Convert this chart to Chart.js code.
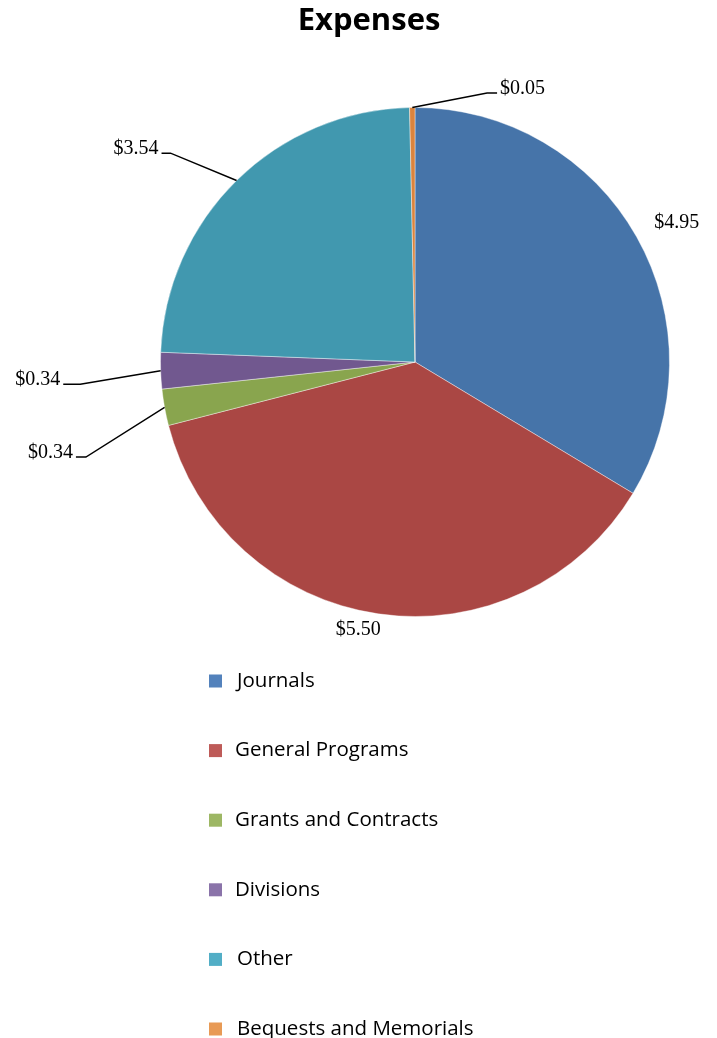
<!DOCTYPE html>
<html>
<head>
<meta charset="utf-8">
<script src="https://cdn.jsdelivr.net/npm/chart.js@4"></script>
<style>
  html, body { margin: 0; padding: 0; background: #fff; }
  #wrap { width: 717px; height: 1038px; }
</style>
</head>
<body>
<div id="wrap"><canvas id="myChart"></canvas></div>
<script>
// data
var categories = ['Journals', 'General Programs', 'Grants and Contracts', 'Divisions', 'Other', 'Bequests and Memorials'];
var expenses = [4.95, 5.50, 0.34, 0.34, 3.54, 0.05];
var valueLabels = ['$4.95', '$5.50', '$0.34', '$0.34', '$3.54', '$0.05'];

// colours: slices and legend boxes
var sliceColors = ['#4674A9', '#AA4744', '#89A54E', '#71588F', '#4198AF', '#DB843D'];
var legendColors = ['#5382BC', '#BE5B58', '#9DB764', '#8A73A9', '#52AEC6', '#E89A55'];

// where each value label goes: angle (deg, from centre) and distance beyond the rim
var labelPlace = [
    { a: -28, d: 42 },
    { a: 102, d: 19 },
    { a: 163.9, d: 88, line: true, side: -1, h: 10 },
    { a: 176.2, d: 81, line: true, side: -1, h: 17 },
    { a: 220.5, d: 67, line: true, side: -1, h: 9 },
    { a: -75, d: 24, line: true, side: 1, h: 10 }
];

var labelFont = '20px "Liberation Serif", serif';
var legendFont = '20.5px "Open Sans", sans-serif';

// value labels + leader lines
var labelPlugin = {
    id: 'valueLabels',
    afterDatasetsDraw: function (chart) {
        var c = chart.ctx;
        var arcs = chart.getDatasetMeta(0).data;
        c.save();
        c.font = labelFont;
        c.fillStyle = '#000';
        c.strokeStyle = '#000';
        c.lineWidth = 1.4;
        arcs.forEach(function (arc, i) {
            var p = labelPlace[i];
            var mid = (arc.startAngle + arc.endAngle) / 2;
            var r = arc.outerRadius;
            var ang = p.a * Math.PI / 180;
            var ex = arc.x + (r + p.d) * Math.cos(ang);
            var ey = arc.y + (r + p.d) * Math.sin(ang);
            if (p.line) {
                var sx = arc.x + r * Math.cos(mid);
                var sy = arc.y + r * Math.sin(mid);
                var hx = ex + p.side * p.h;
                c.beginPath();
                c.moveTo(sx, sy);
                c.lineTo(ex, ey);
                c.lineTo(hx, ey);
                c.stroke();
                c.textBaseline = 'alphabetic';
                c.textAlign = p.side > 0 ? 'left' : 'right';
                c.fillText(valueLabels[i], hx + p.side * 3, ey + 1);
            } else {
                c.textBaseline = 'middle';
                c.textAlign = 'center';
                c.fillText(valueLabels[i], ex, ey);
            }
        });
        c.restore();
    }
};

// title and vertical legend below the pie
var sidePlugin = {
    id: 'titleLegend',
    afterDraw: function (chart) {
        var c = chart.ctx;
        c.save();
        c.fillStyle = '#000';
        c.font = 'bold 31px "Open Sans", sans-serif';
        c.textAlign = 'center';
        c.textBaseline = 'middle';
        c.fillText('Expenses', 369, 21);

        c.font = legendFont;
        c.textAlign = 'left';
        var top = chart.chartArea.bottom + 64;
        categories.forEach(function (name, i) {
            var y = top + i * 69.6;
            c.fillStyle = legendColors[i];
            c.fillRect(209, y - 6.5, 13, 13);
            c.fillStyle = '#000';
            c.fillText(name, i === 0 || i === 4 || i === 5 ? 237 : 235, y);
        });
        c.restore();
    }
};

var ctx = document.getElementById('myChart').getContext('2d');
var myChart = new Chart(ctx, {
    type: 'pie',
    data: {
        labels: categories,
        datasets: [{
            data: expenses,
            backgroundColor: sliceColors,
            borderColor: 'rgba(255,255,255,0.4)',
            borderWidth: 1
        }]
    },
    options: {
        responsive: true,
        maintainAspectRatio: false,
        animation: false,
        layout: { padding: { left: 160, right: 47, top: 107, bottom: 421 } },
        plugins: {
            legend: { display: false },
            title: { display: false },
            tooltip: { enabled: false }
        }
    },
    plugins: [labelPlugin, sidePlugin]
});
</script>
</body>
</html>
